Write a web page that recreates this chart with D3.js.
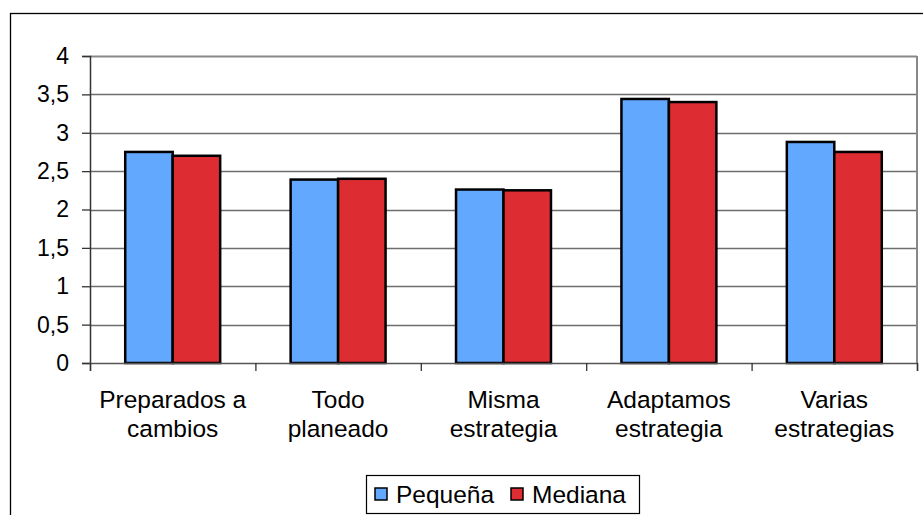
<!DOCTYPE html>
<html>
<head>
<meta charset="utf-8">
<script src="https://cdn.jsdelivr.net/npm/d3@7/dist/d3.min.js"></script>
<style>
  html, body { margin: 0; padding: 0; background: #fff; }
  svg { display: block; font-family: "Liberation Sans", Arial, sans-serif; }
</style>
</head>
<body>
<svg id="chart" width="923" height="515"></svg>
<script>
// Categories (each label split over two lines)
const categories = [
  ["Preparados a", "cambios"],
  ["Todo", "planeado"],
  ["Misma", "estrategia"],
  ["Adaptamos", "estrategia"],
  ["Varias", "estrategias"]
];
const seriesNames = ["Pequeña", "Mediana"];
const pequena = [2.75, 2.39, 2.26, 3.44, 2.88];
const mediana = [2.70, 2.40, 2.25, 3.40, 2.75];
const yTicks = [0, 0.5, 1, 1.5, 2, 2.5, 3, 3.5, 4];
const seriesColors = ["#63A8FF", "#DD2D33"];

const svg = d3.select("#chart");

// Outer chart frame
svg.append("rect")
  .attr("x", 10.5).attr("y", 13.5)
  .attr("width", 940).attr("height", 540)
  .attr("fill", "none").attr("stroke", "#000").attr("stroke-width", 1.3);

const plot = { left: 90, right: 917, top: 56, bottom: 363 };

const catIdx = categories.map((_, i) => i);
const x0 = d3.scaleBand().domain(catIdx).range([plot.left, plot.right]).padding(0);
const groupW = x0.bandwidth() * 0.574;
const x1 = d3.scaleBand().domain([0, 1])
  .range([(x0.bandwidth() - groupW) / 2, (x0.bandwidth() + groupW) / 2]).padding(0);
const y = d3.scaleLinear().domain([0, 4]).range([plot.bottom, plot.top]);

// Gridlines
svg.append("g")
  .selectAll("line")
  .data(yTicks.filter(t => t > 0))
  .join("line")
  .attr("x1", plot.left).attr("x2", plot.right)
  .attr("y1", d => Math.round(y(d)) + 0.5).attr("y2", d => Math.round(y(d)) + 0.5)
  .attr("stroke", d => d === 4 ? "#888" : "#6e6e6e")
  .attr("stroke-width", d => d === 4 ? 2 : 1.3);

// Right edge of the plot area
svg.append("line")
  .attr("x1", plot.right).attr("x2", plot.right)
  .attr("y1", plot.top).attr("y2", plot.bottom)
  .attr("stroke", "#888").attr("stroke-width", 2);

// Bars
const data = catIdx.map(i => [pequena[i], mediana[i]]);
const groups = svg.append("g").selectAll("g")
  .data(data)
  .join("g")
  .attr("transform", (d, i) => `translate(${x0(i)},0)`);
groups.selectAll("rect")
  .data(d => d.map((v, s) => ({ v, s })))
  .join("rect")
  .attr("x", d => x1(d.s))
  .attr("width", x1.bandwidth())
  .attr("y", d => y(d.v))
  .attr("height", d => y(0) - y(d.v))
  .attr("fill", d => seriesColors[d.s])
  .attr("stroke", "#000")
  .attr("stroke-width", 2.5);

// Y axis
const yAxis = d3.axisLeft(y).tickValues(yTicks).tickSize(8).tickPadding(13)
  .tickFormat(d => String(d).replace(".", ","));
const gy = svg.append("g").attr("transform", `translate(${plot.left},0)`).call(yAxis);
gy.attr("font-size", null).attr("font-family", null);
gy.select(".domain").attr("stroke", "#333").attr("stroke-width", 1.5);
gy.selectAll(".tick line").attr("stroke", "#333").attr("stroke-width", 1.3);
gy.selectAll(".tick text")
  .style("font-size", "23px")
  .style("font-family", "'Liberation Sans', Arial, sans-serif")
  .attr("fill", "#000");

// X axis: line and tick marks at band boundaries
const xBound = d3.scaleLinear().domain([0, categories.length]).range([plot.left, plot.right]);
const xAxis = d3.axisBottom(xBound).ticks(categories.length).tickSize(8).tickFormat("");
const gx = svg.append("g").attr("transform", `translate(0,${plot.bottom})`).call(xAxis);
gx.select(".domain").attr("stroke", "#555").attr("stroke-width", 1.5);
gx.selectAll(".tick line").attr("stroke", "#333").attr("stroke-width", 1.3);

// Category labels
const labels = svg.append("g")
  .style("font-size", "24.5px").attr("fill", "#000").attr("text-anchor", "middle");
labels.selectAll("text")
  .data(categories)
  .join("text")
  .attr("x", (d, i) => x0(i) + x0.bandwidth() / 2)
  .attr("y", 408)
  .each(function(d) {
    d3.select(this).selectAll("tspan")
      .data(d)
      .join("tspan")
      .attr("x", d3.select(this).attr("x"))
      .attr("dy", (t, j) => j === 0 ? 0 : 29)
      .text(t => t);
  });

// Legend
const legend = svg.append("g");
legend.append("rect")
  .attr("x", 366.5).attr("y", 475.5).attr("width", 273).attr("height", 38)
  .attr("fill", "#fff").attr("stroke", "#000").attr("stroke-width", 1.2);
const legendX = [375, 511];
seriesNames.forEach((name, s) => {
  legend.append("rect")
    .attr("x", legendX[s]).attr("y", 488).attr("width", 12).attr("height", 12)
    .attr("fill", seriesColors[s]).attr("stroke", "#000").attr("stroke-width", 1.5);
  legend.append("text")
    .attr("x", legendX[s] + 21).attr("y", 503)
    .style("font-size", "24.5px").attr("fill", "#000")
    .text(name);
});
</script>
</body>
</html>
